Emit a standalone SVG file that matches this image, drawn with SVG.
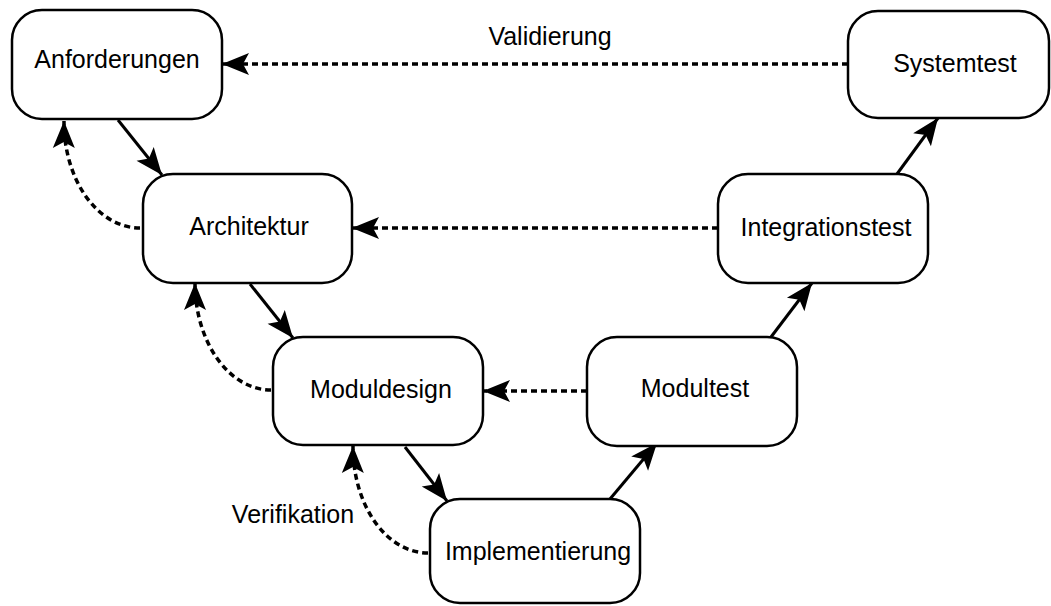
<svg xmlns="http://www.w3.org/2000/svg" width="1051" height="606" viewBox="0 0 1051 606">
<style>
.box{fill:#fff;stroke:#000;stroke-width:2.5}
.lbl{font-family:"Liberation Sans",Arial,sans-serif;font-size:25px;fill:#000;text-anchor:middle}
.c{fill:none;stroke:#000;stroke-width:3}
.d{stroke-dasharray:6 4;stroke-width:3.5}
</style>
<defs>
<marker id="ah" markerUnits="userSpaceOnUse" viewBox="-28 -12 29 24" markerWidth="29" markerHeight="24" refX="0" refY="0" orient="auto">
<path d="M0,0 L-27,-11 L-21,0 L-27,11 Z" fill="#000"/>
</marker>
</defs>
<rect width="1051" height="606" fill="#fff"/>
<g id="connectors">
<path class="c" d="M118,120 L162,175" marker-end="url(#ah)"/>
<path class="c" d="M250,284 L293,338" marker-end="url(#ah)"/>
<path class="c" d="M405,447 L447,501" marker-end="url(#ah)"/>
<path class="c" d="M610,499 L657,443" marker-end="url(#ah)"/>
<path class="c" d="M771,337 L812,283" marker-end="url(#ah)"/>
<path class="c" d="M897,174 L938,118" marker-end="url(#ah)"/>
<path class="c d" d="M848,64 L222,64" marker-end="url(#ah)"/>
<path class="c d" d="M718,228 L352,228" marker-end="url(#ah)"/>
<path class="c d" d="M587,391 L483,391" marker-end="url(#ah)"/>
<path class="c d" d="M140,228 A76,106 0 0 1 64,121" marker-end="url(#ah)"/>
<path class="c d" d="M271,390 A76,107 0 0 1 195,283" marker-end="url(#ah)"/>
<path class="c d" d="M428,553 A75,106 0 0 1 353,446" marker-end="url(#ah)"/>
<text class="lbl" x="550" y="45">Validierung</text>
<text class="lbl" x="293" y="523">Verifikation</text>
</g>
<g id="anforderungen"><rect class="box" x="12" y="10" width="210" height="109" rx="30"/><text class="lbl" x="117" y="68">Anforderungen</text></g>
<g id="architektur"><rect class="box" x="143" y="174" width="209" height="109" rx="30"/><text class="lbl" x="249" y="235">Architektur</text></g>
<g id="moduldesign"><rect class="box" x="273" y="337" width="210" height="108" rx="30"/><text class="lbl" x="381" y="398">Moduldesign</text></g>
<g id="implementierung"><rect class="box" x="430" y="499" width="210" height="104" rx="30"/><text class="lbl" x="538" y="560">Implementierung</text></g>
<g id="modultest"><rect class="box" x="587" y="337" width="210" height="109" rx="30"/><text class="lbl" x="695" y="397">Modultest</text></g>
<g id="integrationstest"><rect class="box" x="718" y="174" width="210" height="109" rx="30"/><text class="lbl" x="826" y="236">Integrationstest</text></g>
<g id="systemtest"><rect class="box" x="848" y="11" width="201" height="107" rx="30"/><text class="lbl" x="955" y="72">Systemtest</text></g>
</svg>
